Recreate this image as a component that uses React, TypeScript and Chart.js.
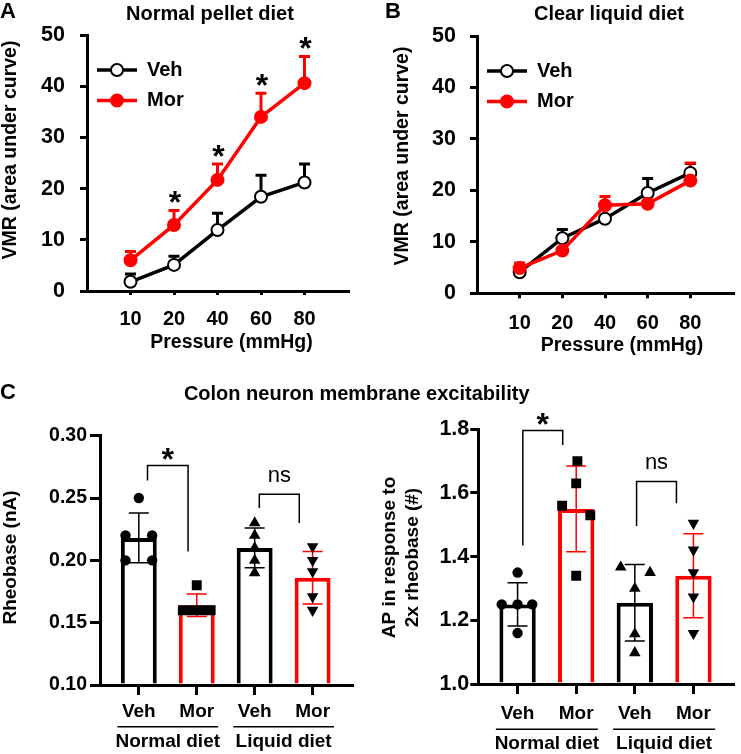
import React, { useEffect, useRef } from 'react';
import { Chart, registerables } from 'chart.js';

Chart.register(...registerables);

const FAMILY = '"Liberation Sans", Arial, Helvetica, sans-serif';
const BLACK = '#000000';
const RED = '#ff0000';
Chart.defaults.font.family = FAMILY;

// ---------- Panels A & B : VMR vs pressure ----------
const pressureLabels = ['10', '20', '40', '60', '80'];
const seriesNames = ['Veh', 'Mor'];
const vmrTicks = [0, 10, 20, 30, 40, 50];

const pelletVeh = [1.8, 5.1, 11.9, 18.4, 21.2];
const pelletVehSem = [1.5, 1.7, 3.3, 4.2, 3.6];
const pelletMor = [6.0, 12.9, 21.7, 34.0, 40.6];
const pelletMorSem = [1.7, 2.8, 3.1, 4.6, 5.2];
const pelletSignificant = [false, true, true, true, true];

const liquidVeh = [4.1, 10.7, 14.5, 19.5, 23.4];
const liquidVehSem = [0.4, 1.7, 0.5, 2.8, 1.8];
const liquidMor = [4.9, 8.3, 17.1, 17.4, 21.9];
const liquidMorSem = [1.0, 0.5, 1.7, 0.5, 3.4];
const liquidSignificant = [false, false, false, false, false];

// ---------- Panel C : excitability ----------
const groupNames = ['Veh', 'Mor', 'Veh', 'Mor'];
const dietNames = ['Normal diet', 'Liquid diet'];

const rheoTicks = [0.1, 0.15, 0.2, 0.25, 0.3];
const rheoMean = [0.218, 0.164, 0.21, 0.186];
const rheoSd = [0.02, 0.009, 0.016, 0.021];
const rheoNormalVeh = [0.25, 0.22, 0.22, 0.2, 0.2];
const rheoNormalMor = [0.18, 0.16, 0.16, 0.16, 0.16];
const rheoLiquidVeh = [0.23, 0.22, 0.21, 0.2, 0.19];
const rheoLiquidMor = [0.211, 0.2, 0.191, 0.171, 0.16];
const rheoJitter = [
  [0, -0.23, 0.23, -0.23, 0.23],
  [0, -0.24, -0.08, 0.08, 0.24],
  [0, 0, 0, 0, 0],
  [0, 0, 0, 0, 0],
];
const rheoBrackets = [
  { from: 0.15, to: 0.85, top: 0.276, left: 0.264, right: 0.207, label: '*' },
  { from: 2.08, to: 2.77, top: 0.253, left: 0.242, right: 0.23, label: 'ns' },
];

const apTicks = [1.0, 1.2, 1.4, 1.6, 1.8];
const apMean = [1.25, 1.55, 1.255, 1.34];
const apSd = [0.068, 0.135, 0.12, 0.132];
const apNormalVeh = [1.35, 1.25, 1.25, 1.25, 1.16];
const apNormalMor = [1.7, 1.63, 1.56, 1.53, 1.34];
const apLiquidVeh = [1.367, 1.35, 1.3, 1.157, 1.098];
const apLiquidMor = [1.505, 1.421, 1.35, 1.274, 1.159];
const apJitter = [
  [0, -0.27, 0, 0.25, 0],
  [0.02, 0, -0.24, 0.24, 0],
  [-0.24, 0.26, 0, 0, 0],
  [0, 0, 0, 0, 0],
];
const apBrackets = [
  { from: 0.09, to: 0.77, top: 1.796, left: 1.435, right: 1.751, label: '*' },
  { from: 2.03, to: 2.71, top: 1.636, left: 1.496, right: 1.568, label: 'ns' },
];

const groupMarkers = [
  { style: 'circle', rotation: 0, radius: 5.2 },
  { style: 'rect', rotation: 0, radius: 7 },
  { style: 'triangle', rotation: 0, radius: 6.7 },
  { style: 'triangle', rotation: 180, radius: 6.7 },
];
const barColors = [BLACK, RED, BLACK, RED];

// ---------- helpers ----------
const cssFont = (size: number, weight: string = 'bold') => `${weight} ${size}px ${FAMILY}`;
const boldFont = (size: number) => ({ family: FAMILY, size, weight: 'bold' as const });

function textPlugin(items: any[]) {
  return {
    id: 'axisTitles',
    afterDraw(chart: any) {
      const ctx = chart.ctx;
      items.forEach((it) => {
        ctx.save();
        ctx.font = cssFont(it.size, it.weight || 'bold');
        ctx.fillStyle = BLACK;
        ctx.textAlign = 'center';
        ctx.textBaseline = 'middle';
        ctx.translate(it.x, it.y);
        if (it.rotate) ctx.rotate(-Math.PI / 2);
        ctx.fillText(it.text, 0, 0);
        ctx.restore();
      });
    },
  };
}

const semPlugin = {
  id: 'semBars',
  beforeDatasetsDraw(chart: any) {
    const { ctx, scales } = chart;
    const xs = scales.x;
    const ys = scales.y;
    chart.data.datasets.forEach((ds: any) => {
      ctx.save();
      ctx.strokeStyle = ds.borderColor;
      ctx.lineWidth = 3;
      ds.data.forEach((p: any, i: number) => {
        const px = xs.getPixelForValue(p.x);
        const y0 = ys.getPixelForValue(p.y);
        const y1 = ys.getPixelForValue(p.y + ds.sem[i]);
        ctx.beginPath();
        ctx.moveTo(px, y0);
        ctx.lineTo(px, y1);
        ctx.moveTo(px - 5.5, y1);
        ctx.lineTo(px + 5.5, y1);
        ctx.stroke();
      });
      ctx.restore();
    });
  },
};

function starPlugin(sig: boolean[]) {
  return {
    id: 'stars',
    afterDatasetsDraw(chart: any) {
      const { ctx, scales } = chart;
      const ds = chart.data.datasets[1];
      ctx.save();
      ctx.font = cssFont(32);
      ctx.fillStyle = BLACK;
      ctx.textAlign = 'center';
      ctx.textBaseline = 'alphabetic';
      sig.forEach((s, i) => {
        if (!s) return;
        const p = ds.data[i];
        const px = scales.x.getPixelForValue(p.x);
        const py = scales.y.getPixelForValue(p.y + ds.sem[i]) - 16;
        ctx.fillText('*', px + 1, py + 0.58 * 32);
      });
      ctx.restore();
    },
  };
}

const lineLegendPlugin = {
  id: 'lineLegend',
  afterDraw(chart: any) {
    const { ctx, chartArea } = chart;
    chart.data.datasets.forEach((ds: any, k: number) => {
      const y = chartArea.top + 35 + 30.5 * k;
      const x0 = chartArea.left + 10;
      ctx.save();
      ctx.strokeStyle = ds.borderColor;
      ctx.lineWidth = 3.5;
      ctx.beginPath();
      ctx.moveTo(x0, y);
      ctx.lineTo(x0 + 40, y);
      ctx.stroke();
      ctx.beginPath();
      ctx.arc(x0 + 20, y, 6, 0, Math.PI * 2);
      ctx.fillStyle = ds.pointBackgroundColor;
      ctx.fill();
      ctx.lineWidth = 2;
      ctx.strokeStyle = ds.pointBorderColor;
      ctx.stroke();
      ctx.font = cssFont(20);
      ctx.fillStyle = BLACK;
      ctx.textAlign = 'left';
      ctx.textBaseline = 'middle';
      ctx.fillText(ds.label, x0 + 50, y);
      ctx.restore();
    });
  },
};

const sdPlugin = {
  id: 'sdBars',
  afterDatasetDraw(chart: any, args: any) {
    if (args.meta.type !== 'bar') return;
    const ds = chart.data.datasets[args.index];
    const { ctx, scales } = chart;
    ds.data.forEach((p: any, i: number) => {
      const px = scales.x.getPixelForValue(p.x);
      const yt = scales.y.getPixelForValue(p.y + ds.sd[i]);
      const yb = scales.y.getPixelForValue(p.y - ds.sd[i]);
      ctx.save();
      ctx.strokeStyle = ds.borderColor[i];
      ctx.lineWidth = 1.5;
      ctx.beginPath();
      ctx.moveTo(px, yt);
      ctx.lineTo(px, yb);
      ctx.moveTo(px - 10, yt);
      ctx.lineTo(px + 10, yt);
      ctx.moveTo(px - 10, yb);
      ctx.lineTo(px + 10, yb);
      ctx.stroke();
      ctx.restore();
    });
  },
};

function bracketPlugin(brackets: any[]) {
  return {
    id: 'brackets',
    afterDatasetsDraw(chart: any) {
      const { ctx, scales } = chart;
      brackets.forEach((b) => {
        const x1 = scales.x.getPixelForValue(b.from);
        const x2 = scales.x.getPixelForValue(b.to);
        const yt = scales.y.getPixelForValue(b.top);
        ctx.save();
        ctx.strokeStyle = BLACK;
        ctx.lineWidth = 1.5;
        ctx.beginPath();
        ctx.moveTo(x1, scales.y.getPixelForValue(b.left));
        ctx.lineTo(x1, yt);
        ctx.lineTo(x2, yt);
        ctx.lineTo(x2, scales.y.getPixelForValue(b.right));
        ctx.stroke();
        ctx.fillStyle = BLACK;
        ctx.textAlign = 'center';
        ctx.textBaseline = 'alphabetic';
        const mx = (x1 + x2) / 2;
        if (b.label === '*') {
          ctx.font = cssFont(32);
          ctx.fillText(b.label, mx, yt - 14 + 0.58 * 32);
        } else {
          ctx.font = cssFont(22, 'normal');
          ctx.fillText(b.label, mx, yt - 18 + 0.26 * 22);
        }
        ctx.restore();
      });
    },
  };
}

function groupPlugin(lineOff: number, textOff: number) {
  return {
    id: 'dietGroups',
    afterDraw(chart: any) {
      const { ctx, scales, chartArea } = chart;
      dietNames.forEach((name, g) => {
        const a = scales.x.getPixelForValue(g * 2 - 0.37);
        const b = scales.x.getPixelForValue(g * 2 + 1 + 0.37);
        ctx.save();
        ctx.strokeStyle = BLACK;
        ctx.lineWidth = 1.5;
        ctx.beginPath();
        ctx.moveTo(a, chartArea.bottom + lineOff);
        ctx.lineTo(b, chartArea.bottom + lineOff);
        ctx.stroke();
        ctx.font = cssFont(19);
        ctx.fillStyle = BLACK;
        ctx.textAlign = 'center';
        ctx.textBaseline = 'middle';
        ctx.fillText(name, (a + b) / 2, chartArea.bottom + textOff);
        ctx.restore();
      });
    },
  };
}

function vmrConfig(veh: number[], vehSem: number[], mor: number[], morSem: number[], sig: boolean[], g: any): any {
  const common = {
    borderWidth: 3.5,
    pointRadius: 6,
    pointHoverRadius: 6,
    pointBorderWidth: 2,
    tension: 0,
  };
  return {
    type: 'line',
    data: {
      datasets: [
        {
          ...common,
          label: seriesNames[0],
          data: veh.map((v, i) => ({ x: i + 1, y: v })),
          sem: vehSem,
          borderColor: BLACK,
          backgroundColor: BLACK,
          pointBackgroundColor: '#ffffff',
          pointBorderColor: BLACK,
          order: 2,
        },
        {
          ...common,
          label: seriesNames[1],
          data: mor.map((v, i) => ({ x: i + 1, y: v })),
          sem: morSem,
          borderColor: RED,
          backgroundColor: RED,
          pointBackgroundColor: RED,
          pointBorderColor: RED,
          order: 1,
        },
      ],
    },
    options: {
      responsive: false,
      animation: false,
      events: [],
      layout: { padding: { top: g.top, right: g.right, left: 0, bottom: 0 } },
      plugins: { legend: { display: false }, tooltip: { enabled: false } },
      scales: {
        x: {
          type: 'linear',
          offset: false,
          min: 0,
          max: pressureLabels.length + 1,
          afterBuildTicks: (s: any) => {
            s.ticks = pressureLabels.map((_, i) => ({ value: i + 1 }));
          },
          afterFit: (s: any) => {
            s.height = g.xh;
          },
          ticks: {
            autoSkip: false,
            maxRotation: 0,
            padding: g.xpad,
            color: BLACK,
            font: boldFont(20),
            callback: (v: any) => pressureLabels[v - 1] ?? '',
          },
          grid: { drawOnChartArea: false, drawTicks: true, tickLength: g.xtl, lineWidth: 3, color: BLACK },
          border: { display: true, width: 3, color: BLACK },
        },
        y: {
          type: 'linear',
          min: 0,
          max: 50,
          afterBuildTicks: (s: any) => {
            s.ticks = vmrTicks.map((v) => ({ value: v }));
          },
          afterFit: (s: any) => {
            s.width = g.yw;
          },
          ticks: { padding: g.ypad, color: BLACK, font: boldFont(21.5) },
          grid: { drawOnChartArea: false, drawTicks: true, tickLength: 7, lineWidth: 3, color: BLACK },
          border: { display: true, width: 3, color: BLACK },
        },
      },
    },
    plugins: [semPlugin, starPlugin(sig), lineLegendPlugin, textPlugin(g.texts)],
  };
}

function excitabilityConfig(
  means: number[],
  sds: number[],
  points: number[][],
  jitter: number[][],
  ticks: number[],
  decimals: number,
  brackets: any[],
  g: any
): any {
  const datasets: any[] = points.map((vals, gi) => ({
    type: 'scatter',
    data: vals.map((v, k) => ({ x: gi + jitter[gi][k], y: v })),
    pointStyle: groupMarkers[gi].style,
    rotation: groupMarkers[gi].rotation,
    pointRotation: groupMarkers[gi].rotation,
    pointRadius: groupMarkers[gi].radius,
    pointHoverRadius: groupMarkers[gi].radius,
    pointBackgroundColor: BLACK,
    pointBorderColor: BLACK,
    pointBorderWidth: 0,
    showLine: false,
    order: 0,
  }));
  datasets.push({
    type: 'bar',
    data: means.map((m, i) => ({ x: i, y: m })),
    sd: sds,
    base: ticks[0],
    backgroundColor: '#ffffff',
    borderColor: barColors,
    borderWidth: 4,
    borderSkipped: 'start',
    barPercentage: 0.62,
    categoryPercentage: 1,
    order: 1,
  });
  return {
    type: 'bar',
    data: { datasets },
    options: {
      responsive: false,
      animation: false,
      events: [],
      layout: { padding: { top: g.top, right: g.right, left: 0, bottom: 0 } },
      plugins: { legend: { display: false }, tooltip: { enabled: false } },
      scales: {
        x: {
          type: 'linear',
          offset: false,
          min: -0.67,
          max: groupNames.length - 1 + 0.68,
          afterBuildTicks: (s: any) => {
            s.ticks = groupNames.map((_, i) => ({ value: i }));
          },
          afterFit: (s: any) => {
            s.height = g.xh;
          },
          ticks: {
            autoSkip: false,
            maxRotation: 0,
            padding: g.xpad,
            color: BLACK,
            font: boldFont(19),
            callback: (v: any) => groupNames[v] ?? '',
          },
          grid: { drawOnChartArea: false, drawTicks: true, tickLength: g.xtl, lineWidth: 3, color: BLACK, offset: false },
          border: { display: true, width: 3, color: BLACK },
        },
        y: {
          type: 'linear',
          min: ticks[0],
          max: ticks[ticks.length - 1],
          afterBuildTicks: (s: any) => {
            s.ticks = ticks.map((v) => ({ value: v }));
          },
          afterFit: (s: any) => {
            s.width = g.yw;
          },
          ticks: { padding: g.ypad, color: BLACK, font: boldFont(g.ytf), callback: (v: any) => Number(v).toFixed(decimals) },
          grid: { drawOnChartArea: false, drawTicks: true, tickLength: g.ytl, lineWidth: 3, color: BLACK },
          border: { display: true, width: 3, color: BLACK },
        },
      },
    },
    plugins: [sdPlugin, bracketPlugin(brackets), groupPlugin(g.lineOff, g.textOff), textPlugin(g.texts)],
  };
}

function ChartBox({ x, y, w, h, make }: any) {
  const ref = useRef<HTMLCanvasElement>(null);
  useEffect(() => {
    const chart = new Chart(ref.current as HTMLCanvasElement, make());
    return () => chart.destroy();
  }, []);
  return (
    <canvas
      ref={ref}
      width={w}
      height={h}
      style={{ position: 'absolute', left: x, top: y, width: w, height: h }}
    />
  );
}

function Label({ text, x, cy, size, center }: any) {
  return (
    <div
      style={{
        position: 'absolute',
        left: x,
        top: cy - size * 0.4885,
        fontFamily: FAMILY,
        fontWeight: 700,
        fontSize: size,
        lineHeight: `${size}px`,
        whiteSpace: 'nowrap',
        color: BLACK,
        transform: center ? 'translateX(-50%)' : undefined,
      }}
    >
      {text}
    </div>
  );
}

export default function App() {
  const geomA = {
    top: 35, right: 22, yw: 87, xh: 69, xtl: 4, xpad: 12.6, ypad: 15,
    texts: [
      { text: 'VMR (area under curve)', x: 10.5, y: 150, size: 19.5, rotate: true },
      { text: 'Pressure (mmHg)', x: 231.5, y: 342.5, size: 19.5 },
    ],
  };
  const geomB = {
    top: 36, right: 0, yw: 107, xh: 66.7, xtl: 5, xpad: 13, ypad: 14,
    texts: [
      { text: 'VMR (area under curve)', x: 33, y: 156, size: 19.5, rotate: true },
      { text: 'Pressure (mmHg)', x: 252, y: 345.8, size: 19.5 },
    ],
  };
  const geomC1 = {
    top: 55.7, right: 18, yw: 100, xh: 69, xtl: 10, xpad: 5.3, ytl: 10, ypad: 3, ytf: 19.5, lineOff: 41.7, textOff: 56.7,
    texts: [{ text: 'Rheobase (nA)', x: 11, y: 177.5, size: 19, rotate: true }],
  };
  const geomC2 = {
    top: 49.3, right: 7.7, yw: 108.3, xh: 70, xtl: 10, xpad: 8, ytl: 8, ypad: 1, ytf: 21.5, lineOff: 45.3, textOff: 59.3,
    texts: [
      { text: 'AP in response to', x: 19.7, y: 177.5, size: 19, rotate: true },
      { text: '2x rheobase (#)', x: 42.7, y: 177.5, size: 19, rotate: true },
    ],
  };

  return (
    <div style={{ position: 'absolute', left: 0, top: 0, width: 741, height: 754, background: '#ffffff', overflow: 'hidden' }}>
      <ChartBox x={0} y={0} w={370} h={360}
        make={() => vmrConfig(pelletVeh, pelletVehSem, pelletMor, pelletMorSem, pelletSignificant, geomA)} />
      <ChartBox x={370} y={0} w={371} h={360}
        make={() => vmrConfig(liquidVeh, liquidVehSem, liquidMor, liquidMorSem, liquidSignificant, geomB)} />
      <ChartBox x={0} y={380} w={370} h={374}
        make={() => excitabilityConfig(rheoMean, rheoSd, [rheoNormalVeh, rheoNormalMor, rheoLiquidVeh, rheoLiquidMor], rheoJitter, rheoTicks, 2, rheoBrackets, geomC1)} />
      <ChartBox x={370} y={380} w={371} h={374}
        make={() => excitabilityConfig(apMean, apSd, [apNormalVeh, apNormalMor, apLiquidVeh, apLiquidMor], apJitter, apTicks, 1, apBrackets, geomC2)} />

      <Label text="A" x={0} cy={10.8} size={22} />
      <Label text="Normal pellet diet" x={210} cy={12.8} size={20} center />
      <Label text="B" x={385} cy={10.8} size={22} />
      <Label text="Clear liquid diet" x={609} cy={13.2} size={20} center />
      <Label text="C" x={0} cy={391.7} size={22} />
      <Label text="Colon neuron membrane excitability" x={356.7} cy={393} size={20} center />
    </div>
  );
}
